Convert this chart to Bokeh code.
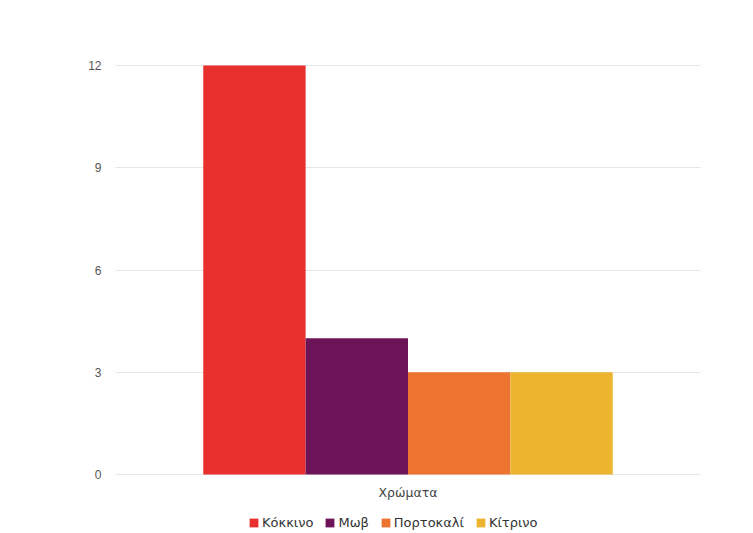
from bokeh.plotting import figure
from bokeh.models import ColumnDataSource, FactorRange, Legend, LegendItem, Range1d, FixedTicker
from bokeh.core.properties import value
from bokeh.transform import dodge
from bokeh.embed import file_html
from bokeh.resources import INLINE

# Data
group = "Χρώματα"
colours_names = ["Κόκκινο", "Μωβ", "Πορτοκαλί", "Κίτρινο"]
counts = [12, 4, 3, 3]
bar_colors = ["#E8302F", "#6D1459", "#EC7330", "#EDB42F"]
y_ticks = [0, 3, 6, 9, 12]

bar_w = 0.175
offsets = [(i - (len(counts) - 1) / 2) * bar_w for i in range(len(counts))]

# The plotting frame reaches the bottom edge so the legend can sit under the
# category label; the value axis keeps 0 at 58px above the bottom.
px_per_unit = 411 / 12.06
y_bottom = -0.03 - 58 / px_per_unit

p = figure(
    width=753, height=533,
    x_range=FactorRange(group, range_padding=0),
    y_range=Range1d(y_bottom, 12.03),
    output_backend="svg", toolbar_location=None,
    min_border_left=115, min_border_right=53, min_border_top=64, min_border_bottom=0,
)
p.outline_line_color = None
p.background_fill_color = "white"
p.border_fill_color = "white"

items = []
for name, val, col, off in zip(colours_names, counts, bar_colors, offsets):
    src = ColumnDataSource(dict(x=[group], top=[val]))
    r = p.vbar(x=dodge("x", off, range=p.x_range), top="top", bottom=0, width=bar_w,
               source=src, fill_color=col, line_color=None)
    items.append(LegendItem(label=name, renderers=[r]))

# category label under the bars
p.text(x=[group], y=[-18 / px_per_unit], text=[group], text_align="center",
       text_baseline="middle", text_font=value("DejaVu Sans"), text_font_size="12.5px",
       text_color="#444444")

# y axis
p.yaxis.ticker = FixedTicker(ticks=y_ticks)
p.yaxis.axis_line_color = None
p.yaxis.major_tick_line_color = None
p.yaxis.minor_tick_line_color = None
p.yaxis.major_label_text_color = "#555555"
p.yaxis.major_label_text_font = "Liberation Sans"
p.yaxis.major_label_text_font_size = "12px"
p.yaxis.major_label_standoff = 8

p.xaxis.visible = False
p.xgrid.grid_line_color = None
p.ygrid.grid_line_color = "#e6e6e6"

legend = Legend(items=items, orientation="horizontal", location=(133, 3),
                glyph_width=11, glyph_height=11, label_text_font_size="13px",
                label_text_font="DejaVu Sans", label_text_color="#333333",
                spacing=11, label_standoff=3, padding=2, margin=0,
                border_line_color=None, background_fill_alpha=0)
p.add_layout(legend)

open("out.html", "w").write(file_html(p, INLINE))
